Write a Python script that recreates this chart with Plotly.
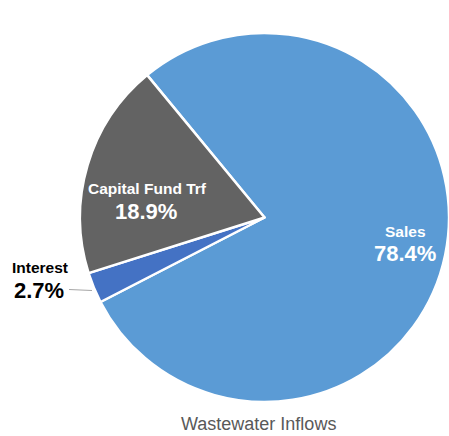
import plotly.graph_objects as go

# Wastewater inflows by source (share of total, %)
categories = ["Sales", "Interest", "Capital Fund Trf"]
shares = [78.4, 2.7, 18.9]
colors = ["#5B9BD5", "#4472C4", "#636363"]

W, H = 449, 436


def px(x):
    return x / W


def py(y):
    return 1 - y / H


fig = go.Figure(
    go.Pie(
        labels=categories,
        values=shares,
        sort=False,
        direction="clockwise",
        rotation=320.5,
        marker=dict(colors=colors, line=dict(color="white", width=2.5)),
        textinfo="none",
        hoverinfo="label+percent",
        domain=dict(x=[px(80), 1], y=[py(403), py(32)]),
        showlegend=False,
    )
)

# label placement (pixel centres of the category name and the value line)
label_pos = {
    "Sales": dict(name=(405, 231), value=(405, 253), color="white"),
    "Capital Fund Trf": dict(name=(147.5, 188.5), value=(146, 211.5), color="white"),
    "Interest": dict(name=(39.5, 267.5), value=(38.5, 290), color="black"),
}

annotations = []
for cat, val in zip(categories, shares):
    p = label_pos[cat]
    annotations.append(dict(
        x=px(p["name"][0]), y=py(p["name"][1]), xref="paper", yref="paper",
        text=f"<b>{cat}</b>", showarrow=False, xanchor="center", yanchor="middle",
        font=dict(family="Liberation Sans, Arial, sans-serif", size=15.5, color=p["color"]),
    ))
    annotations.append(dict(
        x=px(p["value"][0]), y=py(p["value"][1]), xref="paper", yref="paper",
        text=f"<b>{val:.1f}%</b>", showarrow=False, xanchor="center", yanchor="middle",
        font=dict(family="Liberation Sans, Arial, sans-serif", size=22, color=p["color"]),
    ))

annotations.append(dict(
    x=px(258), y=py(424), xref="paper", yref="paper",
    text="Wastewater Inflows", showarrow=False, xanchor="center", yanchor="middle",
    font=dict(family="Liberation Sans, Arial, sans-serif", size=18, color="#595959"),
))

fig.update_layout(
    width=W, height=H,
    margin=dict(l=0, r=0, t=0, b=0),
    paper_bgcolor="white",
    plot_bgcolor="white",
    annotations=annotations,
    shapes=[dict(
        type="line", xref="paper", yref="paper",
        x0=px(69), y0=py(289.5), x1=px(92), y1=py(290.5),
        line=dict(color="#A6A6A6", width=1),
    )],
)

fig.write_html("out.html")
